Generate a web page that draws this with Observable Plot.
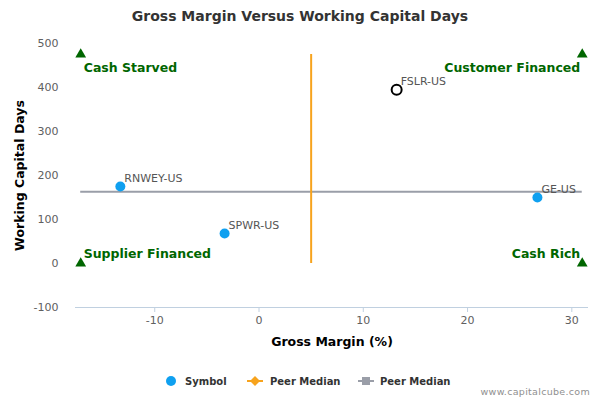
<!DOCTYPE html>
<html><head><meta charset="utf-8">
<script src="https://cdn.jsdelivr.net/npm/d3@7"></script>
<script src="https://cdn.jsdelivr.net/npm/@observablehq/plot@0.6"></script>
<style>
body{margin:0;background:#fff;font-family:"DejaVu Sans",sans-serif;}
#wrap{position:relative;width:600px;height:400px;overflow:hidden;background:#fff}
#title{position:absolute;top:8px;left:0;width:600px;text-align:center;font-size:14px;font-weight:bold;color:#333}
#chart{position:absolute;top:0;left:0}
#legend{position:absolute;left:0;top:370px}
#credit{position:absolute;right:10px;top:386px;font-size:9.5px;color:#909090;letter-spacing:0.3px}
</style></head>
<body>
<div id="wrap">
<div id="chart"></div>
<div id="title">Gross Margin Versus Working Capital Days</div>
<svg id="legend" width="600" height="24" font-family="DejaVu Sans" font-size="10" font-weight="bold" fill="#333">
  <circle cx="171" cy="11" r="5" fill="#0fa0f0"></circle>
  <text x="185" y="15">Symbol</text>
  <line x1="247" x2="263" y1="11" y2="11" stroke="#f7a31d" stroke-width="2"></line>
  <path d="M255,6 L260,11 L255,16 L250,11 Z" fill="#f7a31d"></path>
  <text x="270" y="15">Peer Median</text>
  <line x1="358" x2="374" y1="11" y2="11" stroke="#9a9ea8" stroke-width="2"></line>
  <rect x="362" y="7" width="8" height="8" fill="#9a9ea8"></rect>
  <text x="380" y="15">Peer Median</text>
</svg>
<div id="credit">www.capitalcube.com</div>
</div>
<script>
const symbols = ["RNWEY-US", "SPWR-US", "FSLR-US", "GE-US"];
const grossMargin = [-13.3, -3.3, 13.2, 26.7];
const workingCapitalDays = [175, 68, 395, 150];
const highlighted = [false, false, true, false];

const peerMedianMargin = 5;
const peerMedianDays = 163;
const xRange = [-17.1, 31];
const yRange = [0, 475];

const quadrantLabels = ["Cash Starved", "Customer Financed", "Supplier Financed", "Cash Rich"];
const quadrantX = [-17.1, 31, -17.1, 31];
const quadrantY = [475, 475, 0, 0];

const xTicks = [-10, 0, 10, 20, 30];
const yTicks = [-100, 0, 100, 200, 300, 400, 500];

const points = symbols.map((s, i) => ({symbol: s, x: grossMargin[i], y: workingCapitalDays[i], hi: highlighted[i]}));
const quads = quadrantLabels.map((l, i) => ({label: l, x: quadrantX[i], y: quadrantY[i], left: i % 2 === 0, top: i < 2}));

const green = "#006600";
const qText = (filter, anchor, dx, dy) => Plot.text(quads.filter(filter), {x: "x", y: "y", text: "label",
  textAnchor: anchor, dx, dy, fill: green, fontWeight: "bold", fontSize: 12.5});

const plot = Plot.plot({
  width: 600,
  height: 400,
  marginTop: 43,
  marginBottom: 93,
  marginLeft: 75,
  marginRight: 12,
  style: {fontFamily: "DejaVu Sans", fontSize: "11px", color: "#606060", background: "transparent"},
  x: {domain: [-17.6, 31.6]},
  y: {domain: [-100, 500]},
  marks: [
    Plot.ruleY([-100], {stroke: "#C0D0E0", strokeWidth: 1}),
    Plot.axisX({ticks: xTicks, tickFormat: d => String(d), tickSize: 5, stroke: "#C0D0E0", tickPadding: 4, fill: "#606060",
      label: "Gross Margin (%)", labelAnchor: "center", labelArrow: "none", labelOffset: 38}),
    Plot.axisY({ticks: yTicks, tickFormat: d => String(d), tickSize: 0, tickPadding: 17, fill: "#606060",
      label: "Working Capital Days", labelAnchor: "center", labelArrow: "none", labelOffset: 60}),
    Plot.ruleY([peerMedianDays], {x1: xRange[0], x2: xRange[1], stroke: "#9a9ea8", strokeWidth: 2}),
    Plot.ruleX([peerMedianMargin], {y1: yRange[0], y2: yRange[1], stroke: "#f7a31d", strokeWidth: 2}),
    Plot.dot(quads, {x: "x", y: "y", symbol: "triangle", r: 4, fill: green}),
    qText(d => d.top && d.left, "start", 3, 13),
    qText(d => d.top && !d.left, "end", -2, 13),
    qText(d => !d.top && d.left, "start", 3, -10),
    qText(d => !d.top && !d.left, "end", -2, -10),
    Plot.dot(points.filter(d => !d.hi), {x: "x", y: "y", r: 5, fill: "#0fa0f0"}),
    Plot.dot(points.filter(d => d.hi), {x: "x", y: "y", r: 5, fill: "white", stroke: "black", strokeWidth: 2}),
    Plot.text(points, {x: "x", y: "y", text: "symbol", textAnchor: "start", dx: 4, dy: -8, fill: "#555", fontSize: 11})
  ]
});
document.getElementById("chart").appendChild(plot);
plot.querySelectorAll("g[aria-label='x-axis label'] text, g[aria-label='y-axis label'] text").forEach(t => {
  t.setAttribute("font-weight", "bold"); t.setAttribute("font-size", "12.5"); t.setAttribute("fill", "#000");
});
</script>
</body></html>
